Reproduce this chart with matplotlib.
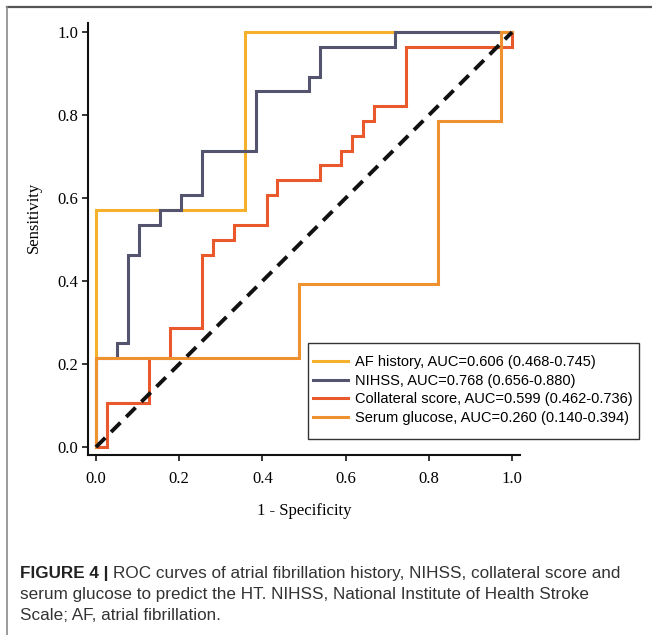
#!/usr/bin/env python3

import matplotlib
matplotlib.use("Agg")
import matplotlib.pyplot as plt
from matplotlib.lines import Line2D
from matplotlib.patches import Rectangle


# ------------------------------------------------------------
# DATA (ROC points)
# ------------------------------------------------------------

af_fpr = [0, 0, 0.359, 0.359, 1]
af_tpr = [0, 0.571, 0.571, 1, 1]

nihss_fpr = [0, 0, 0.051, 0.051, 0.077, 0.077, 0.103, 0.103, 0.154, 0.154,
             0.205, 0.205, 0.256, 0.256, 0.385, 0.385, 0.513, 0.513, 0.538,
             0.538, 0.718, 0.718, 1]
nihss_tpr = [0, 0.214, 0.214, 0.25, 0.25, 0.464, 0.464, 0.536, 0.536, 0.571,
             0.571, 0.607, 0.607, 0.714, 0.714, 0.857, 0.857, 0.893, 0.893,
             0.964, 0.964, 1, 1]

coll_fpr = [0, 0.026, 0.026, 0.128, 0.128, 0.179, 0.179, 0.256, 0.256, 0.282,
            0.282, 0.333, 0.333, 0.41, 0.41, 0.436, 0.436, 0.538, 0.538, 0.59,
            0.59, 0.615, 0.615, 0.641, 0.641, 0.667, 0.667, 0.744, 0.744, 1, 1]
coll_tpr = [0, 0, 0.107, 0.107, 0.214, 0.214, 0.286, 0.286, 0.464, 0.464,
            0.5, 0.5, 0.536, 0.536, 0.607, 0.607, 0.643, 0.643, 0.679, 0.679,
            0.714, 0.714, 0.75, 0.75, 0.786, 0.786, 0.821, 0.821, 0.964, 0.964, 1]

glu_fpr = [0, 0, 0.487, 0.487, 0.821, 0.821, 0.974, 0.974, 1]
glu_tpr = [0, 0.214, 0.214, 0.393, 0.393, 0.786, 0.786, 1, 1]

labels = [
    "AF history, AUC=0.606 (0.468-0.745)",
    "NIHSS, AUC=0.768 (0.656-0.880)",
    "Collateral score, AUC=0.599 (0.462-0.736)",
    "Serum glucose, AUC=0.260 (0.140-0.394)",
]
colors = ["#F6B12C", "#54546E", "#E9592B", "#F0912F"]

ticks = [0.0, 0.2, 0.4, 0.6, 0.8, 1.0]
tick_labels = ["0.0", "0.2", "0.4", "0.6", "0.8", "1.0"]

caption_bold = "FIGURE 4 | "
caption_lines = [
    "ROC curves of atrial fibrillation history, NIHSS, collateral score and",
    "serum glucose to predict the HT. NIHSS, National Institute of Health Stroke",
    "Scale; AF, atrial fibrillation.",
]


# ------------------------------------------------------------
# PLOT
# ------------------------------------------------------------

W, H = 652, 635
SERIF = ["Liberation Serif", "DejaVu Serif"]
SANS = ["Liberation Sans", "DejaVu Sans"]


def main():
    fig = plt.figure(figsize=(W / 100, H / 100), dpi=100)
    ax = fig.add_axes([88 / W, 1 - 455 / H, 432 / W, 432 / H])

    curves = [(af_fpr, af_tpr), (nihss_fpr, nihss_tpr),
              (coll_fpr, coll_tpr), (glu_fpr, glu_tpr)]
    for (x, y), lab, c in zip(curves, labels, colors):
        ax.plot(x, y, color=c, lw=2.2, label=lab, solid_joinstyle="miter")

    ax.plot([0, 1], [0, 1], color="#111111", lw=2.8, dashes=(3.4, 2.1), zorder=5)

    ax.set_xlim(-0.019, 1.019)
    ax.set_ylim(-0.019, 1.022)
    ax.set_xticks(ticks)
    ax.set_xticklabels(tick_labels, family=SERIF, fontsize=12)
    ax.set_yticks(ticks)
    ax.set_yticklabels(tick_labels, family=SERIF, fontsize=12)

    for side in ("top", "right"):
        ax.spines[side].set_visible(False)
    for side in ("left", "bottom"):
        ax.spines[side].set_linewidth(1.5)
        ax.spines[side].set_color("#111111")

    ax.tick_params(axis="x", direction="out", length=4.5, width=1.1, pad=7)
    ax.tick_params(axis="y", direction="out", length=4.5, width=1.1, pad=2.5)

    ax.set_xlabel("1 - Specificity", family=SERIF, fontsize=12)
    ax.set_ylabel("Sensitivity", family=SERIF, fontsize=12)
    ax.xaxis.set_label_coords(0.5, -0.112)
    ax.yaxis.set_label_coords(-0.106, 0.549)

    # legend without frame, box drawn by hand (taller padding than wide)
    leg = ax.legend(loc="upper left", bbox_to_anchor=(308 / W, 1 - 350 / H),
                    bbox_transform=fig.transFigure, borderaxespad=0,
                    prop={"family": SANS, "size": 10.5},
                    handlelength=2.4, handletextpad=0.5, borderpad=0.35,
                    labelspacing=0.32, frameon=False)
    for h in leg.get_lines():
        h.set_linewidth(2.2)

    renderer = fig.canvas.get_renderer()
    lb = leg.get_window_extent(renderer)
    x0, x1 = 308, lb.x1 + 1
    y_top, y_bot = H - 343, H - 439
    fig.add_artist(Rectangle((x0 / W, y_bot / H), (x1 - x0) / W, (y_top - y_bot) / H,
                             transform=fig.transFigure, fill=False,
                             edgecolor="#333333", lw=1.0, zorder=4))

    # panel border (top + left)
    fig.add_artist(Line2D([7 / W, 1], [1 - 7 / H, 1 - 7 / H],
                          transform=fig.transFigure, color="#555555", lw=1.6))
    fig.add_artist(Line2D([7 / W, 7 / W], [1 - 7 / H, 0],
                          transform=fig.transFigure, color="#8a8a8a", lw=1.2))

    # caption
    base = [578, 599, 620]
    fs = 12.3
    t = fig.text(20 / W, 1 - base[0] / H, caption_bold, family=SANS,
                 weight="bold", fontsize=fs, color="#222222", va="baseline")
    bb = t.get_window_extent(renderer)
    fig.text(bb.x1 / W, 1 - base[0] / H, caption_lines[0], family=SANS,
             fontsize=fs, color="#333333", va="baseline")
    for yb, line in zip(base[1:], caption_lines[1:]):
        fig.text(20 / W, 1 - yb / H, line, family=SANS,
                 fontsize=fs, color="#333333", va="baseline")

    fig.savefig("out.png", dpi=100)
    plt.close(fig)


if __name__ == "__main__":
    main()
